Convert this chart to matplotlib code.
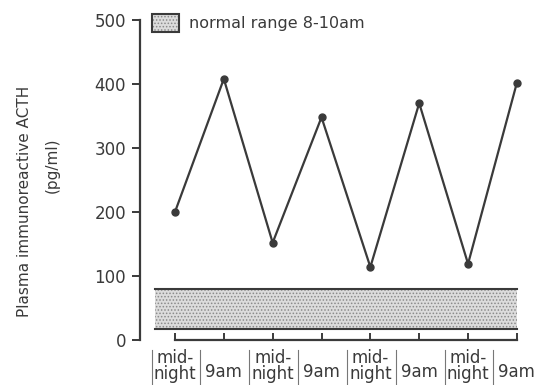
import matplotlib
matplotlib.use("Agg")
import matplotlib.pyplot as plt
from matplotlib.patches import Rectangle
from matplotlib.legend_handler import HandlerTuple

# data
times = ["mid-\nnight", "9am", "mid-\nnight", "9am", "mid-\nnight", "9am", "mid-\nnight", "9am"]
acth = [200, 408, 152, 348, 114, 370, 119, 402]
normal_low = 17
normal_high = 80
yticks = [0, 100, 200, 300, 400, 500]

ink = '#3a3a3a'
plt.rcParams['font.family'] = ['DejaVu Sans']
plt.rcParams['text.color'] = ink
plt.rcParams['hatch.linewidth'] = 0.7

fig = plt.figure(figsize=(5.34, 3.85), dpi=100)
ax = fig.add_axes([140 / 534, 45 / 385, 1 - 140 / 534, 320 / 385])

xs = list(range(len(acth)))

# normal range band
ax.fill_between([-0.41, xs[-1]], normal_low, normal_high, facecolor='#dcdcdc',
                edgecolor='#8a8a8a', hatch='.....', linewidth=0, zorder=1)
ax.plot([-0.41, xs[-1]], [normal_high, normal_high], color=ink, lw=1.5, zorder=2)
ax.plot([-0.41, xs[-1]], [normal_low, normal_low], color=ink, lw=1.5, zorder=2)

ax.plot(xs, acth, color=ink, lw=1.6, marker='o', markersize=5, zorder=3)

ax.set_xlim(-0.716, 7.35)
ax.set_ylim(0, 500)

for s in ['top', 'right']:
    ax.spines[s].set_visible(False)
ax.spines['left'].set_bounds(0, 500)
ax.spines['bottom'].set_bounds(0, xs[-1])
ax.spines['left'].set_color(ink)
ax.spines['bottom'].set_color(ink)
ax.spines['left'].set_linewidth(1.6)
ax.spines['bottom'].set_linewidth(1.6)

ax.set_yticks(yticks)
ax.set_yticklabels([str(v) for v in yticks], fontsize=12, color=ink)
ax.tick_params(axis='y', direction='out', length=6, width=1.4, color=ink, pad=4)
ax.set_xticks(xs)
ax.set_xticklabels([])
ax.tick_params(axis='x', direction='in', length=5, width=1.4, color=ink)

# x labels with separators
for i, lab in enumerate(times):
    if '\n' in lab:
        ax.text(i, -0.028, lab, transform=ax.get_xaxis_transform(), ha='center', va='top',
                fontsize=12, linespacing=0.85)
    else:
        ax.text(i, -0.1, lab, transform=ax.get_xaxis_transform(), ha='center', va='center',
                fontsize=12)
    ax.plot([i - 0.48, i - 0.48], [-0.03, -0.15], transform=ax.get_xaxis_transform(),
            color='#777777', lw=0.8, clip_on=False)

# y label
fig.text(25 / 534, 1 - 201 / 385, "Plasma immunoreactive ACTH", rotation=90,
         ha='center', va='center', fontsize=11)
fig.text(52 / 534, 1 - 165 / 385, "(pg/ml)", rotation=90,
         ha='center', va='center', fontsize=11)

# legend
stip = Rectangle((0, 0), 1, 1, facecolor='#dcdcdc', edgecolor='#8a8a8a', hatch='.....', linewidth=0)
box = Rectangle((0, 0), 1, 1, facecolor='none', edgecolor=ink, linewidth=1.5)
ax.legend([(stip, box)], ["normal range 8-10am"], handler_map={tuple: HandlerTuple(ndivide=1)},
          loc='center left', bbox_to_anchor=(152 / 534, 1 - 23 / 385), bbox_transform=fig.transFigure,
          frameon=False, fontsize=11.5, handlelength=1.7, handleheight=1.4, handletextpad=0.6,
          borderpad=0, borderaxespad=0)

fig.savefig("out.png", dpi=100)
